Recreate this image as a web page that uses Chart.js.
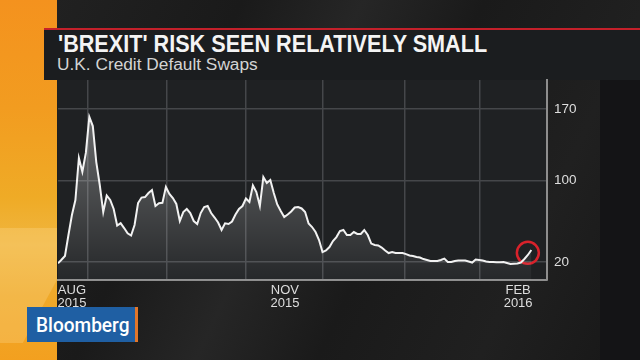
<!DOCTYPE html>
<html>
<head>
<meta charset="utf-8">
<title>'Brexit' risk seen relatively small</title>
<script src="https://cdn.jsdelivr.net/npm/chart.js@4.4.1/dist/chart.umd.min.js"></script>
<style>
  html, body { margin: 0; padding: 0; }
  body {
    width: 640px; height: 360px; overflow: hidden; position: relative;
    background: #1b1c1e;
    font-family: 'Liberation Sans', Arial, sans-serif;
  }
  #stripes {
    position: absolute; left: 0; top: 0; width: 640px; height: 360px;
    background: linear-gradient(115deg, #232323 0%, #1a1a1a 30%, #262626 45%, #1a1a1a 60%, #202020 80%, #171717 100%);
  }
  #side {
    position: absolute; left: 0; top: 0; width: 57px; height: 360px;
    background: linear-gradient(to bottom, #f4921e 0%, #f29c20 30%, #efab26 55%, #f0b640 68%, #efa92a 82%, #f3a01f 100%);
  }
  #side-light {
    position: absolute; left: 0; top: 228px; width: 57px; height: 115px;
    background: rgba(255, 228, 165, 0.25);
    clip-path: polygon(0 0, 100% 0, 100% 45%, 40% 100%, 0 100%);
  }
  #right-dark {
    position: absolute; left: 600px; top: 80px; width: 40px; height: 280px;
    background: #141416;
  }
  #titlebox {
    position: absolute; left: 44px; top: 28px; width: 596px; height: 50px;
    background: #1b1d1f; border-top: 2px solid #c4202a;
  }
  #title {
    position: absolute; left: 58px; top: 33px; margin: 0;
    font-size: 23.5px; line-height: 1; font-weight: bold; color: #f4f4f4;
    transform: scaleX(0.92); transform-origin: left top; white-space: nowrap;
  }
  #subtitle {
    position: absolute; left: 57px; top: 56px;
    font-size: 17.3px; line-height: 1; color: #d4d4d4; white-space: nowrap;
  }
  #chart { position: absolute; left: 0; top: 0; }
  #logo {
    position: absolute; left: 27px; top: 307px; width: 108px; height: 35px;
    background: #1f5fa3; border-right: 3px solid #e2762a;
  }
  #logo span {
    position: absolute; left: 9px; top: 7.5px;
    font-family: Roboto, 'Liberation Sans', sans-serif; font-weight: 500;
    font-size: 20.5px; line-height: 1; color: #ffffff;
    transform: scaleX(0.93); transform-origin: left top;
  }
</style>
</head>
<body>
<div id="stripes"></div>
<div id="side"></div>
<div id="side-light"></div>
<div id="right-dark"></div>
<div id="titlebox"></div>
<h1 id="title">'BREXIT' RISK SEEN RELATIVELY SMALL</h1>
<div id="subtitle">U.K. Credit Default Swaps</div>
<canvas id="chart" width="640" height="360"></canvas>
<div id="logo"><span>Bloomberg</span></div>

<script>
'use strict';

// ======= data =======

// U.K. credit default swaps, one value per trading day, Aug 2015 - Feb 2016
var cds = [
  18.7, 22.2, 25.9, 46.5, 66.1, 80.8, 122, 108.5, 126.9, 162.2,
  153.3, 118, 95.5, 69, 85.2, 80.8, 72, 55.8, 58.2, 53.3,
  48.1, 46, 56.3, 77.8, 83.2, 83.7, 87.6, 90.6, 74.9, 77.6,
  78, 93.5, 86.7, 82.7, 76.9, 60.2, 69, 72, 68, 60.2,
  57.3, 68, 73.9, 74.9, 68, 63.6, 58.7, 51.4, 57.9, 57.3,
  59.7, 66.6, 72, 74.9, 82.3, 78.8, 95, 88.6, 74.9, 103.3,
  97.5, 100.4, 87.6, 76.4, 70, 64.1, 66.6, 69.5, 73.4, 73.9,
  72.5, 69, 57.7, 54.3, 49.4, 41.6, 29.8, 31.3, 34.7, 40.6,
  44.5, 50.4, 51.4, 46.5, 46.5, 49.4, 47.5, 47.5, 51.4, 46.5,
  38.1, 36.7, 36.2, 34.2, 31.3, 28.8, 29.8, 28.8, 28.8, 28.8,
  27.8, 26.4, 25.9, 24.9, 24.4, 22.9, 22, 21, 21, 21,
  22, 23.4, 20, 20, 21, 21.5, 21.5, 21.5, 20.5, 19.5,
  22.5, 22, 21.5, 20.5, 20, 20, 19.7, 19.7, 20, 19,
  18, 18.3, 18.5, 19.5, 23, 26.9, 31.8
];

var xGridAt = [8.6, 31.3, 54.0, 76.1, 99.7, 121.3];
var xLabelAt = [4.0, 65.2, 132.2];
var xLabels = [['AUG', '2015'], ['NOV', '2015'], ['FEB', '2016']];
var yTicks = [20, 100, 170];

// the red ring around the latest move
var circleAt = { x: 135, y: 29 };

// ======= end data =======


var gridColor = '#45474a';
var axisColor = '#8e8e8e';
var labelColor = '#dedede';

// fills the plot panel behind the lines
var panelBg = {
  id: 'panelBg',
  beforeDraw: function (chart) {
    var a = chart.chartArea;
    var ctx = chart.ctx;
    ctx.save();
    ctx.fillStyle = '#1f2123';
    ctx.fillRect(a.left, a.top, a.right - a.left, a.bottom - a.top);
    ctx.restore();
  }
};

function areaFill(context) {
  var area = context.chart.chartArea;
  if (!area) {
    return 'rgba(255,255,255,0.1)';
  }
  var g = context.chart.ctx.createLinearGradient(0, area.top + 30, 0, area.bottom);
  g.addColorStop(0, 'rgba(255,255,255,0.34)');
  g.addColorStop(1, 'rgba(255,255,255,0.03)');
  return g;
}

var ctx = document.getElementById('chart').getContext('2d');
var chart = new Chart(ctx, {
  type: 'line',
  data: {
    datasets: [{
      label: 'U.K. CDS',
      data: cds.map(function (v, i) { return { x: i, y: v }; }),
      borderColor: '#f2f2f2',
      borderWidth: 2,
      pointRadius: 0,
      tension: 0,
      fill: 'start',
      backgroundColor: areaFill
    },
    {
      label: 'highlight',
      data: [circleAt],
      showLine: false,
      pointRadius: 11,
      pointBorderWidth: 2.5,
      pointBorderColor: '#d8222b',
      pointBackgroundColor: 'rgba(0,0,0,0)',
      fill: false
    }]
  },
  options: {
    responsive: false,
    animation: false,
    layout: { padding: { left: 58, top: 80, right: 40, bottom: 40 } },
    plugins: {
      legend: { display: false },
      tooltip: { enabled: false }
    },
    scales: {
      x: {
        type: 'linear',
        position: 'bottom',
        min: 0,
        max: 140.5,
        afterBuildTicks: function (axis) {
          axis.ticks = xGridAt.map(function (v) { return { value: v }; });
        },
        afterFit: function (axis) { axis.height = 0; },
        ticks: { display: false },
        grid: { color: gridColor, lineWidth: 1.5, drawTicks: false },
        border: { display: true, color: axisColor, width: 2 }
      },
      x2: {
        type: 'linear',
        position: 'bottom',
        min: 0,
        max: 140.5,
        afterBuildTicks: function (axis) {
          axis.ticks = xLabelAt.map(function (v) { return { value: v }; });
        },
        afterFit: function (axis) { axis.height = 40; },
        grid: { display: false, drawTicks: false },
        border: { display: false },
        ticks: {
          autoSkip: false,
          maxRotation: 0,
          padding: 4,
          color: labelColor,
          font: { family: "'Liberation Sans', Arial, sans-serif", size: 13, lineHeight: 1 },
          callback: function (value, index) { return xLabels[index]; }
        }
      },
      y: {
        position: 'right',
        min: 2.4,
        max: 198.4,
        afterBuildTicks: function (axis) {
          axis.ticks = yTicks.map(function (v) { return { value: v }; });
        },
        afterFit: function (axis) { axis.width = 53; },
        grid: { color: gridColor, lineWidth: 1.5, drawTicks: false },
        border: { display: true, color: axisColor, width: 2 },
        ticks: {
          padding: 7,
          color: labelColor,
          font: { family: "'Liberation Sans', Arial, sans-serif", size: 13.5 }
        }
      }
    }
  },
  plugins: [panelBg]
});
</script>
</body>
</html>
